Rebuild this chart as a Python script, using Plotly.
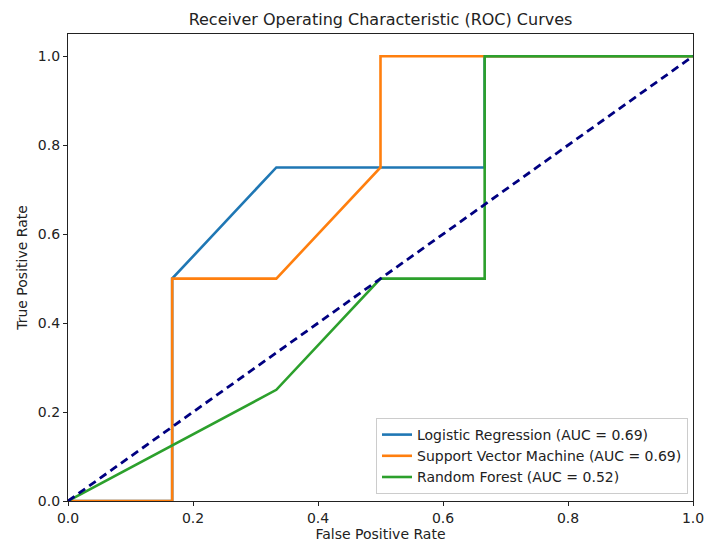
import plotly.graph_objects as go

# ROC data
lr_fpr = [0.0, 1/6, 1/6, 1/3, 2/3, 2/3, 1.0]
lr_tpr = [0.0, 0.0, 0.5, 0.75, 0.75, 1.0, 1.0]
svm_fpr = [0.0, 1/6, 1/6, 1/3, 0.5, 0.5, 1.0]
svm_tpr = [0.0, 0.0, 0.5, 0.5, 0.75, 1.0, 1.0]
rf_fpr = [0.0, 1/3, 0.5, 2/3, 2/3, 1.0]
rf_tpr = [0.0, 0.25, 0.5, 0.5, 1.0, 1.0]
chance = [0.0, 1.0]

names = ["Logistic Regression (AUC = 0.69)",
         "Support Vector Machine (AUC = 0.69)",
         "Random Forest (AUC = 0.52)"]
colors = ["#1f77b4", "#ff7f0e", "#2ca02c"]

fig = go.Figure()
for fx, ty, nm, c in zip([lr_fpr, svm_fpr, rf_fpr], [lr_tpr, svm_tpr, rf_tpr], names, colors):
    fig.add_trace(go.Scatter(x=fx, y=ty, mode="lines", name=nm,
                             line=dict(color=c, width=2.6)))
fig.add_trace(go.Scatter(x=chance, y=chance, mode="lines", showlegend=False,
                         line=dict(color="navy", width=2.8, dash="8px,5px")))

font = "DejaVu Sans, sans-serif"
axis_common = dict(showline=True, mirror=True, linecolor="#222222", linewidth=1.3,
                   ticks="outside", ticklen=4, tickcolor="#222222", showgrid=False,
                   zeroline=False, automargin=False, ticklabeloverflow="allow",
                   tickfont=dict(size=14, color="#222222", family=font))
fig.update_layout(
    width=704, height=543,
    margin=dict(l=68, r=11, t=34, b=42),
    paper_bgcolor="white", plot_bgcolor="white",
    font=dict(family=font, color="#222222"),
    title=dict(text="Receiver Operating Characteristic (ROC) Curves", x=0.5, xref="paper",
               y=1 - 19/543, yanchor="middle", font=dict(size=16, family=font, color="#222222")),
    xaxis=dict(range=[0, 1], tickvals=[0, 0.2, 0.4, 0.6, 0.8, 1.0],
               ticktext=["0.0", "0.2", "0.4", "0.6", "0.8", "1.0"],
               title=dict(text="False Positive Rate", font=dict(size=14), standoff=2), **axis_common),
    yaxis=dict(range=[0, 1.05], tickvals=[0, 0.2, 0.4, 0.6, 0.8, 1.0],
               ticktext=["0.0", "0.2", "0.4", "0.6", "0.8", "1.0"],
               title=dict(text="True Positive Rate", font=dict(size=14), standoff=6), **axis_common),
    legend=dict(x=0.992, y=0.015, xanchor="right", yanchor="bottom",
                bordercolor="#cccccc", borderwidth=1, bgcolor="rgba(255,255,255,0.8)",
                font=dict(size=14, family=font, color="#222222"), tracegroupgap=0),
    showlegend=True,
)
fig.write_html("out.html")
